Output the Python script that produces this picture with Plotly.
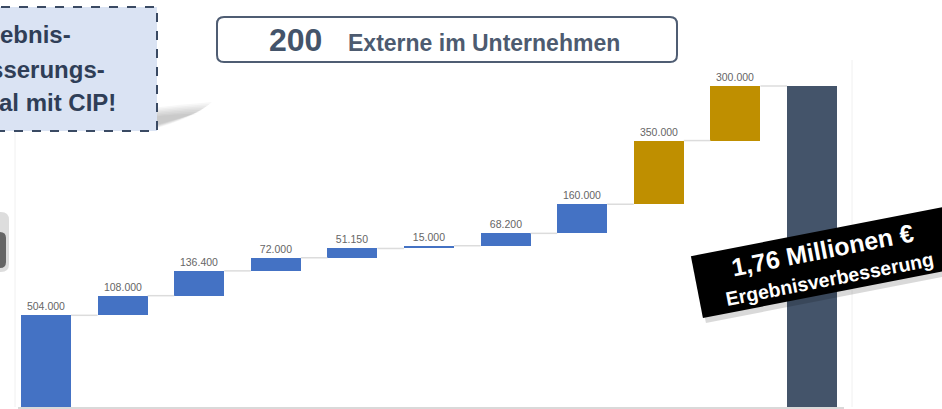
import plotly.graph_objects as go

# ---------------- data ----------------
step_names = ["S1", "S2", "S3", "S4", "S5", "S6", "S7", "S8", "S9", "S10"]
step_values = [504000, 108000, 136400, 72000, 51150, 15000, 68200, 160000, 350000, 300000]
step_groups = ["blue"] * 8 + ["gold"] * 2
total_name = "Gesamt"

title_number = "200"
title_text = "Externe im Unternehmen"
box_lines = ["Ergebnis-", "verbesserungs-", "potenzial mit CIP!"]
badge_line1 = "1,76 Millionen €"
badge_line2 = "Ergebnisverbesserung"

# ---------------- styling / layout ----------------
W, H = 942, 409
ML, MR, MT, MB = 18, 98, 10, 2
PW, PH = W - ML - MR, H - MT - MB
group_colors = {"blue": "#4472C4", "gold": "#BF8F00"}
total_color = "#44546A"
bar_w = 0.653
FONT = "Liberation Sans, Arial, sans-serif"


def px(x):
    return (x - ML) / PW


def py(y):
    return (H - MB - y) / PH


def fmt(v):
    return f"{v:,}".replace(",", ".")


total = sum(step_values)
bases = []
run = 0
for v in step_values:
    bases.append(run)
    run += v

xs = list(range(len(step_values) + 1))
ys = step_values + [total]
bs = bases + [0]
cols = [group_colors[g] for g in step_groups] + [total_color]
labels = [fmt(v) for v in step_values] + [""]

fig = go.Figure()

# connectors
for i, v in enumerate(step_values):
    lvl = bases[i] + v
    fig.add_trace(go.Scatter(
        x=[i + bar_w / 2, i + 1 - bar_w / 2], y=[lvl, lvl], mode="lines",
        line=dict(color="#dcdcdc", width=1.5), hoverinfo="skip", showlegend=False))

fig.add_trace(go.Bar(
    x=xs, y=ys, base=bs, width=bar_w,
    marker=dict(color=cols, line=dict(width=0)),
    text=labels, textposition="outside", constraintext="none", cliponaxis=False,
    textfont=dict(family=FONT, size=10.5, color="#666666"),
    customdata=step_names + [total_name], hovertemplate="%{customdata}: %{y}<extra></extra>",
    showlegend=False))

ymax = (PH) / (321 / total)

shapes = []
annotations = []

# faint frame verticals
for xv in (15, 852):
    shapes.append(dict(type="line", xref="paper", yref="paper", x0=px(xv), x1=px(xv),
                       y0=py(407), y1=py(60), line=dict(color="#f0f0f0", width=1)))


def rounded(x0, y0, x1, y1, r):
    pts = (f"M {px(x0 + r)},{py(y0)} L {px(x1 - r)},{py(y0)} "
           f"Q {px(x1)},{py(y0)} {px(x1)},{py(y0 + r)} "
           f"L {px(x1)},{py(y1 - r)} Q {px(x1)},{py(y1)} {px(x1 - r)},{py(y1)} "
           f"L {px(x0 + r)},{py(y1)} Q {px(x0)},{py(y1)} {px(x0)},{py(y1 - r)} "
           f"L {px(x0)},{py(y0 + r)} Q {px(x0)},{py(y0)} {px(x0 + r)},{py(y0)} Z")
    return pts


# left box soft shadow (layered wedges, below/right of box corner)
for k in range(7):
    d = k * 2.5
    path = (f"M {px(150)},{py(108 + d * 0.6)} "
            f"Q {px(185)},{py(104 + d * 0.6)} {px(212 - d)},{py(102 + d * 0.8)} "
            f"Q {px(195 - d)},{py(118)} {px(150)},{py(130 - d * 0.2)} Z")
    shapes.append(dict(type="path", xref="paper", yref="paper", path=path,
                       fillcolor="rgba(0,0,0,0.03)", line=dict(width=0), layer="above"))

# left box
shapes.append(dict(type="rect", xref="paper", yref="paper",
                   x0=px(-130), x1=px(157), y0=py(131), y1=py(7),
                   fillcolor="#DAE3F3", line=dict(color="#3A4A63", width=2, dash="dash"),
                   layer="above"))
for txt, yy in zip(box_lines, [34, 69, 102]):
    annotations.append(dict(xref="paper", yref="paper", x=px(15), y=py(yy),
                            xanchor="center", yanchor="middle", showarrow=False,
                            text=f"<b>{txt}</b>",
                            font=dict(family=FONT, size=24, color="#2F3E57")))

# title box
shapes.append(dict(type="path", xref="paper", yref="paper",
                   path=rounded(217, 17, 677, 62, 7),
                   fillcolor="white", line=dict(color="#4F5D73", width=2), layer="above"))
annotations.append(dict(xref="paper", yref="paper", x=px(295), y=py(40),
                        xanchor="center", yanchor="middle", showarrow=False,
                        text=f"<b>{title_number}</b>",
                        font=dict(family=FONT, size=32, color="#44546A")))
annotations.append(dict(xref="paper", yref="paper", x=px(484), y=py(43),
                        xanchor="center", yanchor="middle", showarrow=False,
                        text=f"<b>{title_text}</b>",
                        font=dict(family=FONT, size=23, color="#4D5B70")))

# left edge dark fragment
shapes.append(dict(type="path", xref="paper", yref="paper",
                   path=rounded(-30, 212, 9, 272, 8),
                   fillcolor="rgba(120,120,120,0.25)", line=dict(width=0), layer="above"))
shapes.append(dict(type="path", xref="paper", yref="paper",
                   path=rounded(-30, 232, 6, 268, 6),
                   fillcolor="rgba(50,50,50,0.7)", line=dict(width=0), layer="above"))

ANG = -11
# badge shadow
annotations.append(dict(xref="paper", yref="paper", x=px(829), y=py(267),
                        xanchor="center", yanchor="middle", showarrow=False,
                        textangle=ANG, bgcolor="rgba(0,0,0,0.15)", borderpad=4,
                        width=254, height=54, text=" ",
                        font=dict(family=FONT, size=25, color="white")))
# badge background
annotations.append(dict(xref="paper", yref="paper", x=px(826), y=py(262),
                        xanchor="center", yanchor="middle", showarrow=False,
                        textangle=ANG, bgcolor="black", borderpad=4,
                        width=254, height=54, text=" ",
                        font=dict(family=FONT, size=25, color="white")))
# badge texts
annotations.append(dict(xref="paper", yref="paper", x=px(822), y=py(250),
                        xanchor="center", yanchor="middle", showarrow=False,
                        textangle=ANG, text=f"<b>{badge_line1}</b>",
                        font=dict(family=FONT, size=25, color="white")))
annotations.append(dict(xref="paper", yref="paper", x=px(829), y=py(279),
                        xanchor="center", yanchor="middle", showarrow=False,
                        textangle=ANG, text=f"<b>{badge_line2}</b>",
                        font=dict(family=FONT, size=19.5, color="white")))

fig.update_layout(
    width=W, height=H, margin=dict(l=ML, r=MR, t=MT, b=MB),
    paper_bgcolor="white", plot_bgcolor="white",
    bargap=0, showlegend=False,
    xaxis=dict(range=[(18 - 46) / 76.6, (844 - 46) / 76.6], showticklabels=False,
               showgrid=False, zeroline=False, showline=True, linecolor="#d9d9d9",
               linewidth=2, ticks=""),
    yaxis=dict(range=[0, ymax], visible=False, showgrid=False, zeroline=False),
    shapes=shapes, annotations=annotations,
)

fig.write_html("out.html", config={"displayModeBar": False},
               post_script="document.body.style.margin='0';document.body.style.padding='0';"
                           "document.body.style.overflow='hidden';")
